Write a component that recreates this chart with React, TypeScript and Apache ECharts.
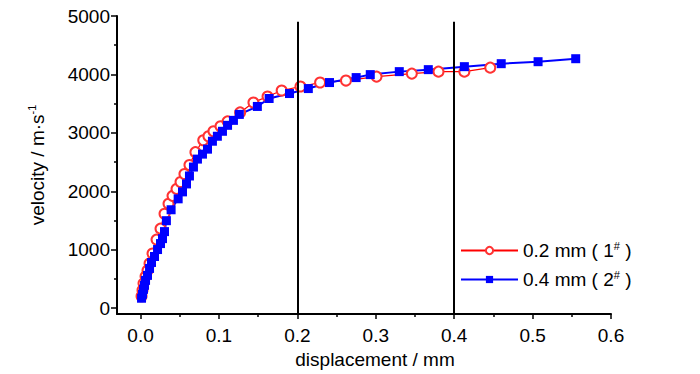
import React, { useEffect, useRef } from "react";
import * as echarts from "echarts";

const FONT = "'Liberation Sans', Arial, sans-serif";

// 0.2 mm (1#) series — red hollow circles
const redX = [0.0013, 0.0025, 0.0038, 0.0064, 0.0089, 0.0115, 0.0153, 0.0204, 0.0255, 0.0306, 0.0357, 0.0408, 0.0459, 0.051, 0.056, 0.0624, 0.07, 0.08, 0.0866, 0.093, 0.102, 0.111, 0.127, 0.144, 0.162, 0.18, 0.204, 0.229, 0.262, 0.301, 0.346, 0.38, 0.413, 0.446];
const redY = [204, 306, 425, 544, 646, 765, 935, 1173, 1361, 1616, 1786, 1922, 2041, 2160, 2296, 2449, 2670, 2874, 2942, 3027, 3112, 3197, 3350, 3520, 3622, 3724, 3793, 3861, 3895, 3963, 4014, 4048, 4048, 4116];

// 0.4 mm (2#) series — blue filled squares
const blueX = [0.0013, 0.0025, 0.0038, 0.0051, 0.0064, 0.0089, 0.0115, 0.014, 0.0178, 0.0217, 0.0255, 0.028, 0.0306, 0.033, 0.039, 0.048, 0.0535, 0.0586, 0.0624, 0.0675, 0.0726, 0.079, 0.0854, 0.0917, 0.098, 0.1045, 0.111, 0.1185, 0.126, 0.149, 0.164, 0.19, 0.214, 0.241, 0.275, 0.293, 0.33, 0.367, 0.413, 0.46, 0.507, 0.555];
const blueY = [170, 238, 323, 391, 476, 561, 680, 782, 884, 1003, 1105, 1190, 1310, 1497, 1684, 1871, 1990, 2126, 2262, 2415, 2551, 2636, 2721, 2857, 2942, 3027, 3129, 3214, 3316, 3452, 3588, 3673, 3758, 3861, 3946, 3997, 4048, 4082, 4133, 4184, 4218, 4269];

const seriesNames = ["0.2 mm (1#)", "0.4 mm (2#)"];
const legendLabels = ["0.2 mm ( 1{sup|#} )", "0.4 mm ( 2{sup|#} )"];

const yMajorTicks = [0, 1000, 2000, 3000, 4000, 5000];
const yMinorTicks = [500, 1500, 2500, 3500, 4500];
const xMajorTicks = [0, 0.1, 0.2, 0.3, 0.4, 0.5, 0.6];
const xMinorTicks = [0.05, 0.15, 0.25, 0.35, 0.45, 0.55];
const markerX = [0.2, 0.4];

const X_MIN = -0.03;
const X_MAX = 0.6;
const Y_MIN = -100;
const Y_MAX = 5000;
const MARK_TOP = 4900;

export default function App() {
  const ref = useRef<HTMLDivElement>(null);

  useEffect(() => {
    if (!ref.current) return;
    const chart = echarts.init(ref.current, null, { renderer: "svg" });
    const black = "#000";
    const labelStyle = { fontSize: 19, fontFamily: FONT, color: black };
    const supStyle = { fontSize: 11, fontFamily: FONT, color: black, verticalAlign: "top", lineHeight: 12 };

    const option: any = {
      animation: false,
      backgroundColor: "#fff",
      grid: { left: 117, right: 89, top: 16, bottom: 59, containLabel: false },
      legend: {
        orient: "vertical",
        left: 460,
        top: 240,
        padding: 0,
        itemWidth: 57,
        itemHeight: 9,
        itemGap: 8,
        data: seriesNames,
        formatter: (name: string) => legendLabels[seriesNames.indexOf(name)],
        textStyle: {
          ...labelStyle,
          lineHeight: 21,
          rich: { sup: supStyle },
        },
      },
      xAxis: [
        {
          type: "value",
          min: X_MIN,
          max: X_MAX,
          position: "bottom",
          axisLine: { show: true, onZero: false, lineStyle: { color: black, width: 2 } },
          axisTick: { show: true, customValues: xMajorTicks, length: 5, lineStyle: { color: black, width: 1.5 } },
          axisLabel: { ...labelStyle, customValues: xMajorTicks, margin: 12, formatter: (v: number) => v.toFixed(1) },
          splitLine: { show: false },
          name: "displacement / mm",
          nameLocation: "middle",
          nameGap: 36,
          nameTextStyle: { ...labelStyle, padding: [0, 0, 0, 22] },
        },
        {
          type: "value",
          min: X_MIN,
          max: X_MAX,
          position: "bottom",
          axisLine: { show: false, onZero: false },
          axisTick: { show: true, customValues: xMinorTicks, length: 3, lineStyle: { color: black, width: 1.5 } },
          axisLabel: { show: false },
          splitLine: { show: false },
        },
      ],
      yAxis: [
        {
          type: "value",
          min: Y_MIN,
          max: Y_MAX,
          position: "left",
          axisLine: { show: true, onZero: false, lineStyle: { color: black, width: 2 } },
          axisTick: { show: true, customValues: yMajorTicks, length: 6, lineStyle: { color: black, width: 1.5 } },
          axisLabel: { ...labelStyle, customValues: yMajorTicks, margin: 7, formatter: (v: number) => String(v) },
          splitLine: { show: false },
          name: "velocity / m·s{sup|-1}",
          nameLocation: "middle",
          nameGap: 69,
          nameRotate: 90,
          nameTextStyle: {
            ...labelStyle,
            lineHeight: 22,
            rich: { sup: supStyle },
          },
        },
        {
          type: "value",
          min: Y_MIN,
          max: Y_MAX,
          position: "left",
          axisLine: { show: false, onZero: false },
          axisTick: { show: true, customValues: yMinorTicks, length: 3, lineStyle: { color: black, width: 1.5 } },
          axisLabel: { show: false },
          splitLine: { show: false },
        },
      ],
      series: [
        {
          name: seriesNames[0],
          type: "line",
          xAxisIndex: 0,
          yAxisIndex: 0,
          data: redX.map((x, i) => [x, redY[i]]),
          symbol: "emptyCircle",
          symbolSize: 10,
          itemStyle: { color: "#ff3333", borderWidth: 1 },
          lineStyle: { color: "#ff0000", width: 1.2 },
          markLine: {
            silent: true,
            symbol: ["none", "none"],
            label: { show: false },
            lineStyle: { color: black, width: 2, type: "solid" },
            emphasis: { disabled: true },
            data: markerX.map((x) => [{ coord: [x, Y_MIN] }, { coord: [x, MARK_TOP] }]),
          },
        },
        {
          name: seriesNames[1],
          type: "line",
          xAxisIndex: 0,
          yAxisIndex: 0,
          data: blueX.map((x, i) => [x, blueY[i]]),
          symbol: "rect",
          symbolSize: 9,
          itemStyle: { color: "#0000ff" },
          lineStyle: { color: "#0000ff", width: 2 },
        },
      ],
    };

    chart.setOption(option);
    return () => chart.dispose();
  }, []);

  return (
    <div
      ref={ref}
      style={{ position: "fixed", left: 0, top: 0, width: 700, height: 374, background: "#fff" }}
    />
  );
}
